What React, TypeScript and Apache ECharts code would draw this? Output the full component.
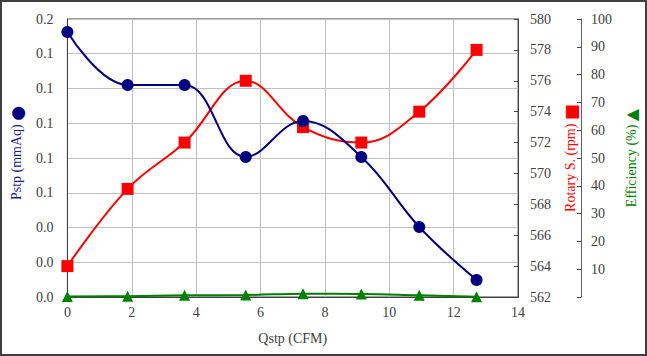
import React, { useEffect, useRef } from "react";
import * as echarts from "echarts";

const qstp = [0.0, 1.87, 3.64, 5.54, 7.32, 9.13, 10.93, 12.71];
const pstp = [0.1525, 0.122, 0.122, 0.0806, 0.1013, 0.0806, 0.0403, 0.0098];
const rpm = [564.0, 569.0, 572.0, 576.0, 573.0, 572.0, 574.0, 578.0];
const eff = [0.2, 0.3, 0.6, 0.7, 1.2, 1.1, 0.6, 0.1];

const FONT = "Liberation Serif";
const TXT = "#404040";

const lbl = (s: string) => (s === "" ? "" : `{t|${s}}`);
const richT = { t: { fontFamily: FONT, fontSize: 14, color: TXT } };

export default function App() {
  const ref = useRef<HTMLDivElement>(null);
  useEffect(() => {
    const chart = echarts.init(ref.current!, null, { renderer: "svg" });
    const pair = (ys: number[]) => qstp.map((x, i) => [x, ys[i]]);
    chart.setOption({
      animation: false,
      textStyle: { fontFamily: FONT },
      grid: {
        left: 63,
        right: 119,
        top: 19,
        bottom: 59,
        show: true,
        borderColor: "#404040",
        borderWidth: 1,
        backgroundColor: "transparent",
      },
      graphic: [
        {
          type: "rect",
          shape: { x: 1, y: 1, width: 645, height: 354 },
          style: { fill: "none", stroke: "#404040", lineWidth: 2 },
          silent: true,
        },
      ],
      xAxis: {
        type: "value",
        min: 0,
        max: 14,
        interval: 2,
        name: "Qstp (CFM)",
        nameLocation: "middle",
        nameGap: 34,
        nameTextStyle: { color: TXT, fontSize: 14, fontFamily: FONT },
        axisLine: { show: true, lineStyle: { color: "#404040" } },
        axisTick: { show: false },
        axisLabel: {
          color: TXT,
          fontSize: 14,
          fontFamily: FONT,
          margin: 8,
          formatter: (v: number) => lbl(String(v)),
          rich: richT,
        },
        splitLine: { show: true, lineStyle: { color: "#c0c0c0", width: 1 } },
      },
      yAxis: [
        {
          type: "value",
          position: "left",
          min: 0,
          max: 0.16,
          interval: 0.02,
          name: "Pstp (mmAq) {m|●}",
          nameLocation: "middle",
          nameRotate: 90,
          nameGap: 28,
          nameTextStyle: {
            color: "#1a1a8c",
            fontSize: 14,
            fontFamily: FONT,
            padding: [0, 0, 0, 10],
            rich: { m: { color: "#000080", fontSize: 17, fontFamily: "DejaVu Sans" } },
          },
          axisLine: { show: true, lineStyle: { color: "#404040" } },
          axisTick: { show: false },
          axisLabel: {
            color: TXT,
            fontSize: 14,
            fontFamily: FONT,
            margin: 14,
            formatter: (v: number) => lbl(v.toFixed(1)),
            rich: richT,
          },
          splitLine: { show: true, lineStyle: { color: "#c0c0c0", width: 1 } },
        },
        {
          type: "value",
          position: "right",
          min: 562,
          max: 580,
          interval: 2,
          name: "Rotary S. (rpm) {m|■}",
          nameLocation: "middle",
          nameRotate: 90,
          nameGap: 38,
          nameTextStyle: {
            color: "#ff0000",
            fontSize: 14,
            fontFamily: FONT,
            rich: { m: { color: "#ff0000", fontSize: 17, fontFamily: "DejaVu Sans" } },
          },
          axisLine: { show: true, lineStyle: { color: "#404040" } },
          axisTick: { show: true, inside: true, length: 4, lineStyle: { color: "#404040" } },
          axisLabel: {
            color: TXT,
            fontSize: 14,
            fontFamily: FONT,
            margin: 12,
            formatter: (v: number) => lbl(String(v)),
            rich: richT,
          },
          splitLine: { show: false },
        },
        {
          type: "value",
          position: "right",
          offset: 63,
          min: 0,
          max: 100,
          interval: 10,
          name: "Efficiency (%) {m|▲}",
          nameLocation: "middle",
          nameRotate: 90,
          nameGap: 32,
          nameTextStyle: {
            color: "#008000",
            fontSize: 14,
            fontFamily: FONT,
            rich: { m: { color: "#008000", fontSize: 16, fontFamily: "DejaVu Sans" } },
          },
          axisLine: { show: true, lineStyle: { color: "#606060" } },
          axisTick: { show: true, inside: true, length: 4, lineStyle: { color: "#404040" } },
          axisLabel: {
            color: TXT,
            fontSize: 14,
            fontFamily: FONT,
            margin: 10,
            formatter: (v: number) => lbl(v === 0 ? "" : String(v)),
            rich: richT,
          },
          splitLine: { show: false },
        },
      ],
      series: [
        {
          name: "Pstp",
          type: "line",
          yAxisIndex: 0,
          data: pair(pstp),
          smooth: 0.4,
          symbol: "circle",
          symbolSize: 12,
          itemStyle: { color: "#000080" },
          lineStyle: { color: "#000080", width: 2 },
          z: 4,
        },
        {
          name: "Rotary S.",
          type: "line",
          yAxisIndex: 1,
          data: pair(rpm),
          smooth: 0.4,
          symbol: "rect",
          symbolSize: 12,
          itemStyle: { color: "#ff0000" },
          lineStyle: { color: "#ff0000", width: 2 },
          z: 3,
        },
        {
          name: "Efficiency",
          type: "line",
          yAxisIndex: 2,
          data: pair(eff),
          smooth: 0.4,
          symbol: "triangle",
          symbolSize: 11,
          itemStyle: { color: "#008000" },
          lineStyle: { color: "#008000", width: 2 },
          z: 5,
        },
      ],
    });
    return () => chart.dispose();
  }, []);
  return (
    <div style={{ position: "absolute", left: 0, top: 0, width: 647, height: 356, background: "#fff" }}>
      <div ref={ref} style={{ width: 647, height: 356 }} />
    </div>
  );
}
